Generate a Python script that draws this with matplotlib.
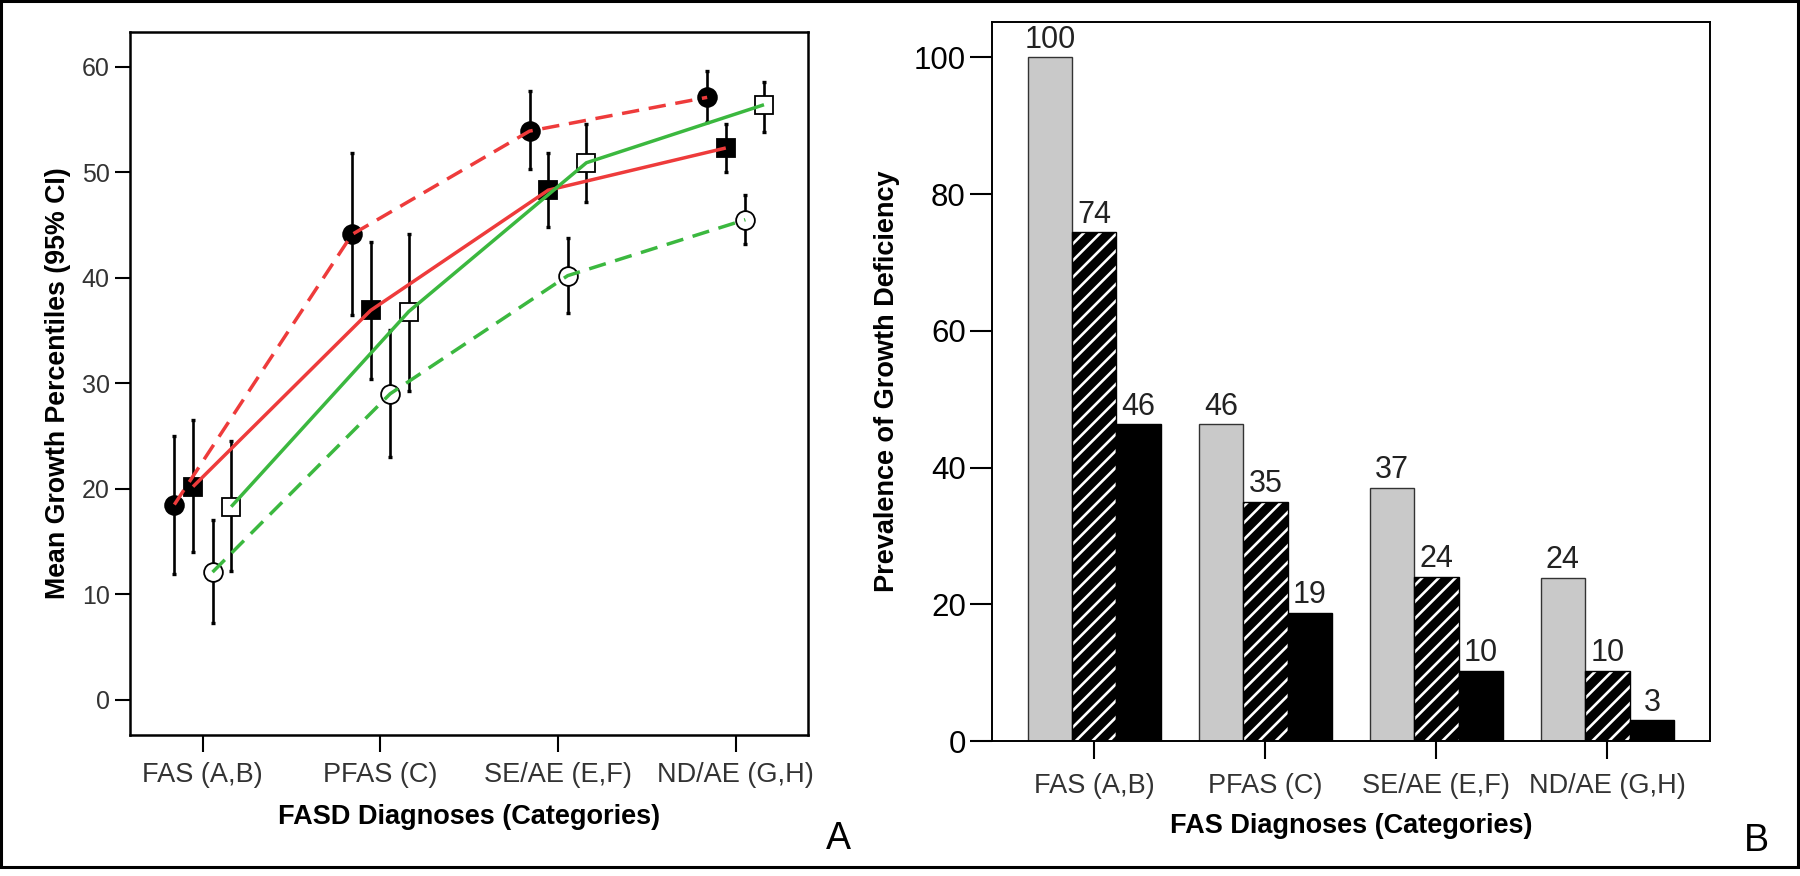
import matplotlib
matplotlib.use("Agg")
import matplotlib.pyplot as plt
import numpy as np
from matplotlib.patches import Rectangle

plt.rcParams['font.family'] = ['Liberation Sans', 'DejaVu Sans']
plt.rcParams['hatch.linewidth'] = 1.9

# ---- panel A data (mean growth percentiles with 95% CI) ----
diag_a = ['FAS (A,B)', 'PFAS (C)', 'SE/AE (E,F)', 'ND/AE (G,H)']
red_circ = [18.5, 44.1, 53.9, 57.1]
red_circ_lo = [11.9, 36.5, 50.3, 54.8]
red_circ_hi = [25.0, 51.8, 57.7, 59.6]
red_sq = [20.2, 36.9, 48.3, 52.3]
red_sq_lo = [14.0, 30.4, 44.8, 50.0]
red_sq_hi = [26.5, 43.4, 51.8, 54.6]
grn_circ = [12.1, 29.0, 40.2, 45.5]
grn_circ_lo = [7.3, 23.0, 36.7, 43.2]
grn_circ_hi = [17.0, 35.0, 43.8, 47.8]
grn_sq = [18.3, 36.8, 50.9, 56.4]
grn_sq_lo = [12.2, 29.3, 47.2, 53.8]
grn_sq_hi = [24.5, 44.1, 54.6, 58.6]

# ---- panel B data (prevalence of growth deficiency) ----
diag_b = ['FAS (A,B)', 'PFAS (C)', 'SE/AE (E,F)', 'ND/AE (G,H)']
prev_gray = [100, 46.3, 37.0, 23.9]
prev_hatch = [74.4, 35.0, 24.0, 10.2]
prev_black = [46.3, 18.7, 10.3, 3.0]

RED = '#ee3b3b'
GREEN = '#3bb83f'
DASH = (5.0, 2.8)

fig = plt.figure(figsize=(18, 8.76), dpi=100)

# ================= Panel A =================
ax = fig.add_axes([0.0722, 0.1606, 0.3769, 0.8032])
x = np.arange(len(diag_a))
series = [
    (-0.16, red_circ, red_circ_lo, red_circ_hi, 'o', 'black', RED, DASH),
    (-0.055, red_sq, red_sq_lo, red_sq_hi, 's', 'black', RED, None),
    (0.055, grn_circ, grn_circ_lo, grn_circ_hi, 'o', 'white', GREEN, DASH),
    (0.16, grn_sq, grn_sq_lo, grn_sq_hi, 's', 'white', GREEN, None),
]
for off, m, lo, hi, mk, fc, lc, dash in series:
    xs = x + off
    m = np.array(m)
    yerr = [m - np.array(lo), np.array(hi) - m]
    ax.errorbar(xs, m, yerr=yerr, fmt='none', ecolor='black', elinewidth=1.9,
                capsize=1.6, capthick=2.4, zorder=2)
    ax.plot(xs, m, linestyle='None', marker=mk, markersize=13.5, markerfacecolor=fc,
            markeredgecolor='black', markeredgewidth=1.3, zorder=3)
    if dash is None:
        ax.plot(xs, m, color=lc, linewidth=2.5, zorder=4, solid_capstyle='butt')
    else:
        ax.plot(xs, m, color=lc, linewidth=2.5, dashes=dash, zorder=4)

ax.set_xlim(-0.41, 3.41)
ax.set_ylim(-3.37, 63.32)
ax.set_xticks(x)
ax.set_xticklabels(diag_a, fontsize=19.5, color='#333333')
ax.set_yticks([0, 10, 20, 30, 40, 50, 60])
ax.tick_params(axis='y', labelsize=18, labelcolor='#333333', length=11, width=1.5, pad=3.5)
ax.tick_params(axis='x', length=12, width=1.5, pad=7)
for sp in ax.spines.values():
    sp.set_linewidth(1.8)
ax.set_xlabel('FASD Diagnoses (Categories)', fontsize=19.5, fontweight='bold')
ax.xaxis.set_label_coords(0.5, -0.098)
ax.set_ylabel('Mean Growth Percentiles (95% CI)', fontsize=19.3, fontweight='bold')
ax.yaxis.set_label_coords(-0.0866, 0.5)

# ================= Panel B =================
bx = fig.add_axes([0.5509, 0.1541, 0.3991, 0.8211])
xb = np.arange(len(diag_b))
w = 0.26
b1 = bx.bar(xb - w, prev_gray, w, color='#c9c9c9', edgecolor='#333333', linewidth=1.0)
# black bars with white diagonal stripes, then a black outline on top
b2 = bx.bar(xb, prev_hatch, w, color='black', edgecolor='white', hatch='//', linewidth=0)
bx.bar(xb, prev_hatch, w, fill=False, edgecolor='black', linewidth=1.0)
b3 = bx.bar(xb + w, prev_black, w, color='black', edgecolor='black', linewidth=1.0)
for bars, vals in ((b1, prev_gray), (b2, prev_hatch), (b3, prev_black)):
    for rect, v in zip(bars, vals):
        bx.annotate(f'{round(v):d}', (rect.get_x() + rect.get_width() / 2, v),
                    xytext=(0, 2), textcoords='offset points', ha='center', va='bottom',
                    fontsize=22, color='#222222')

bx.set_xlim(-0.6, 3.6)
bx.set_ylim(0, 105.2)
bx.set_xticks(xb)
bx.set_xticklabels(diag_b, fontsize=19.5, color='#333333')
bx.set_yticks([0, 20, 40, 60, 80, 100])
bx.tick_params(axis='y', labelsize=22.5, length=15.6, width=1.5, pad=3)
bx.tick_params(axis='x', length=12.7, width=1.5, pad=10)
for sp in bx.spines.values():
    sp.set_linewidth(1.4)
bx.set_xlabel('FAS Diagnoses (Categories)', fontsize=19.5, fontweight='bold')
bx.xaxis.set_label_coords(0.5, -0.1005)
bx.set_ylabel('Prevalence of Growth Deficiency', fontsize=19.5, fontweight='bold')
bx.yaxis.set_label_coords(-0.1277, 0.5)

# panel letters and outer frame
fig.text(0.4656, 0.0422, 'A', fontsize=27, ha='center', va='center')
fig.text(0.976, 0.040, 'B', fontsize=27, ha='center', va='center')
fig.add_artist(Rectangle((0.0008, 0.0106), 0.9979, 0.9882, transform=fig.transFigure,
                         fill=False, edgecolor='black', linewidth=2.2))

fig.savefig('out.png', dpi=100)
